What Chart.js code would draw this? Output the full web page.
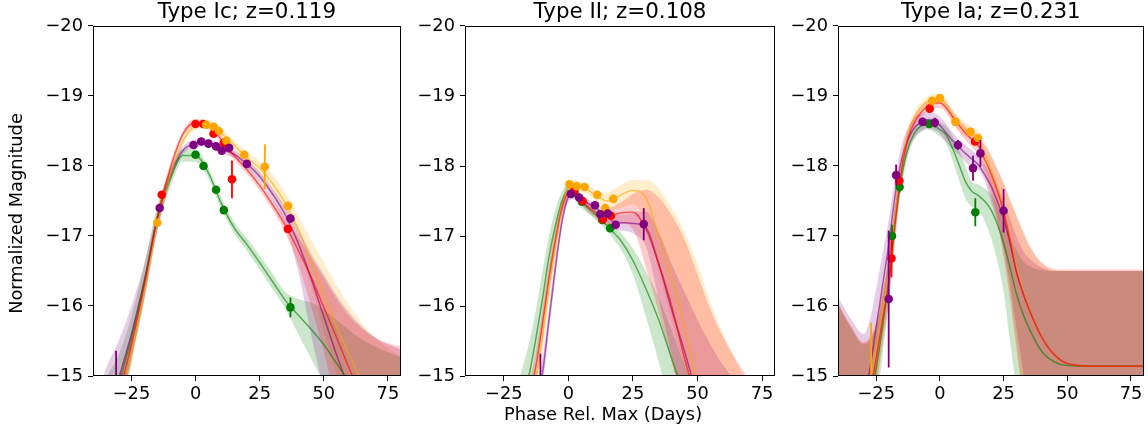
<!DOCTYPE html>
<html><head><meta charset="utf-8">
<script src="https://cdn.jsdelivr.net/npm/chart.js@4.4.0/dist/chart.umd.min.js"></script>
<style>
html,body{margin:0;padding:0;background:#fff;overflow:hidden;width:1148px;height:427px;}
canvas{position:absolute;top:0;}
</style></head><body>
<canvas id="c1" width="405" height="427" style="left:0px"></canvas>
<canvas id="c2" width="386" height="427" style="left:410px"></canvas>
<canvas id="c3" width="366" height="427" style="left:782px"></canvas>
<script>
// ---------- shared ----------
const Y_TICKS = [-20, -19, -18, -17, -16, -15];
const X_TICKS = [-25, 0, 25, 50, 75];
const TITLES = ['Type Ic; z=0.119', 'Type II; z=0.108', 'Type Ia; z=0.231'];
const Y_LABEL = 'Normalized Magnitude';
const X_LABEL = 'Phase Rel. Max (Days)';

// ---------- Panel 1: Type Ic ----------
const IC_PHASE = [-40,-35,-30,-25,-20,-15,-10,-5,0,5,10,15,20,25,30,35,40,45,50,55,60,65,70,75,80];
const IC_RED_MEAN = [-12.8,-13.8,-14.7,-15.45,-16.3,-17.25,-17.95,-18.45,-18.62,-18.58,-18.38,-18.15,-17.95,-17.72,-17.45,-17.15,-16.8,-16.42,-15.98,-15.55,-15.1,-14.7,-14.3,-13.9,-13.5];
const IC_RED_HI   = [-13.2,-14.1,-14.95,-15.62,-16.42,-17.33,-18.02,-18.5,-18.67,-18.63,-18.43,-18.21,-18.01,-17.79,-17.53,-17.26,-16.98,-16.7,-16.4,-16.1,-15.85,-15.68,-15.55,-15.47,-15.42];
const IC_RED_LO   = [-12.4,-13.5,-14.45,-15.28,-16.18,-17.17,-17.88,-18.4,-18.57,-18.53,-18.33,-18.09,-17.89,-17.65,-17.37,-17.04,-16.6,-16.0,-15.35,-14.6,-14.0,-13.5,-13.0,-12.6,-12.2];
const IC_ORANGE_MEAN = [-12.6,-13.6,-14.55,-15.35,-16.2,-17.15,-17.85,-18.35,-18.57,-18.6,-18.47,-18.3,-18.12,-17.97,-17.75,-17.47,-17.1,-16.65,-16.15,-15.7,-15.3,-14.9,-14.5,-14.1,-13.7];
const IC_ORANGE_HI   = [-13.0,-13.95,-14.85,-15.55,-16.35,-17.24,-17.93,-18.41,-18.63,-18.66,-18.53,-18.37,-18.2,-18.07,-17.88,-17.62,-17.3,-16.95,-16.62,-16.3,-16.0,-15.75,-15.55,-15.4,-15.28];
const IC_ORANGE_LO   = [-12.2,-13.25,-14.25,-15.15,-16.05,-17.06,-17.77,-18.29,-18.51,-18.54,-18.41,-18.23,-18.04,-17.87,-17.62,-17.3,-16.85,-16.3,-15.65,-15.0,-14.4,-13.9,-13.4,-13.0,-12.6];
const IC_PURPLE_MEAN = [-13.2,-14.1,-14.95,-15.6,-16.35,-17.2,-17.85,-18.22,-18.32,-18.34,-18.24,-18.17,-18.03,-17.85,-17.6,-17.3,-16.9,-16.4,-15.85,-15.3,-14.8,-14.3,-13.8,-13.3,-12.8];
const IC_PURPLE_HI   = [-14.5,-15.1,-15.5,-16.0,-16.6,-17.35,-17.95,-18.28,-18.38,-18.39,-18.3,-18.22,-18.09,-17.91,-17.68,-17.42,-17.1,-16.75,-16.45,-16.15,-15.9,-15.7,-15.55,-15.45,-15.38];
const IC_PURPLE_LO   = [-12.2,-13.2,-14.4,-15.25,-16.1,-17.05,-17.75,-18.16,-18.26,-18.29,-18.18,-18.12,-17.97,-17.79,-17.52,-17.15,-16.5,-15.6,-14.8,-14.1,-13.5,-13.0,-12.5,-12.0,-11.5];
const IC_GREEN_MEAN = [-13.0,-13.9,-14.85,-15.55,-16.35,-17.25,-17.8,-18.15,-18.15,-17.9,-17.47,-17.12,-16.88,-16.62,-16.35,-16.08,-15.87,-15.67,-15.45,-15.18,-14.9,-14.6,-14.3,-14.0,-13.7];
const IC_GREEN_HI   = [-14.4,-14.95,-15.3,-15.85,-16.6,-17.42,-17.93,-18.24,-18.24,-17.98,-17.55,-17.2,-16.97,-16.72,-16.46,-16.2,-16.1,-16.05,-15.95,-15.8,-15.65,-15.52,-15.42,-15.34,-15.27];
const IC_GREEN_LO   = [-11.8,-12.9,-14.3,-15.2,-16.1,-17.08,-17.67,-18.06,-18.06,-17.82,-17.39,-17.04,-16.79,-16.52,-16.24,-15.96,-15.6,-15.25,-14.9,-14.5,-14.1,-13.7,-13.3,-12.9,-12.5];
const IC_RED_PX = [-13.2,0,3,7,11,14.2,36];
const IC_RED_PY = [-17.59,-18.6,-18.6,-18.46,-18.33,-17.81,-17.1];
const IC_RED_PE = [0.03,0.02,0.02,0.03,0.03,0.27,0.04];
const IC_ORANGE_PX = [-14.9,4.1,7.1,9.1,12,19,27,36];
const IC_ORANGE_PY = [-17.19,-18.59,-18.56,-18.5,-18.36,-18.16,-17.99,-17.43];
const IC_ORANGE_PE = [0.03,0.02,0.02,0.03,0.03,0.04,0.32,0.04];
const IC_PURPLE_PX = [-31,-14,-0.8,2.2,5,8,10.2,13.1,20,37];
const IC_PURPLE_PY = [-14.6,-17.4,-18.3,-18.35,-18.32,-18.28,-18.22,-18.26,-18.03,-17.25];
const IC_PURPLE_PE = [0.76,0.03,0.02,0.02,0.02,0.02,0.03,0.03,0.04,0.06];
const IC_GREEN_PX = [0,3.1,8,11,37];
const IC_GREEN_PY = [-18.16,-18.0,-17.66,-17.37,-15.98];
const IC_GREEN_PE = [0.02,0.02,0.03,0.03,0.14];

// ---------- Panel 2: Type II ----------
const II_PHASE = [-40,-30,-20,-17.5,-15,-12.5,-10,-7.5,-5,-2.5,0,2.5,5,7.5,10,12.5,15,17.5,20,25,30,35,40,45,50,55,60,70,80];
const II_GREEN_MEAN = [-9.0,-11.5,-14.2,-14.65,-15.05,-15.55,-16.1,-16.7,-17.15,-17.5,-17.65,-17.6,-17.48,-17.4,-17.32,-17.24,-17.15,-17.05,-16.95,-16.65,-16.25,-15.8,-15.25,-14.7,-14.1,-13.5,-13.0,-12.0,-11.0];
const II_GREEN_HI   = [-10.0,-12.5,-14.8,-15.15,-15.5,-15.95,-16.5,-17.0,-17.38,-17.63,-17.75,-17.69,-17.56,-17.47,-17.39,-17.31,-17.23,-17.15,-17.06,-16.82,-16.5,-16.12,-15.65,-15.15,-14.6,-14.0,-13.5,-12.5,-11.5];
const II_GREEN_LO   = [-8.0,-10.5,-13.6,-14.15,-14.6,-15.15,-15.7,-16.35,-16.88,-17.33,-17.55,-17.51,-17.4,-17.33,-17.25,-17.17,-17.07,-16.95,-16.83,-16.45,-15.85,-15.2,-14.5,-13.9,-13.3,-12.7,-12.2,-11.2,-10.2];
const II_RED_MEAN = [-9.0,-11.3,-13.8,-14.25,-14.7,-15.15,-15.75,-16.4,-16.95,-17.4,-17.62,-17.64,-17.52,-17.42,-17.35,-17.28,-17.27,-17.3,-17.33,-17.34,-17.1,-16.6,-16.0,-15.25,-14.6,-14.0,-13.4,-12.4,-11.4];
const II_RED_HI   = [-9.5,-11.7,-14.0,-14.45,-14.9,-15.35,-15.95,-16.58,-17.1,-17.5,-17.7,-17.71,-17.59,-17.5,-17.43,-17.37,-17.38,-17.42,-17.47,-17.6,-17.66,-17.55,-17.3,-16.95,-16.45,-15.95,-15.55,-14.95,-14.5];
const II_RED_LO   = [-8.5,-10.9,-13.6,-14.05,-14.5,-14.95,-15.55,-16.2,-16.8,-17.3,-17.54,-17.57,-17.45,-17.34,-17.27,-17.19,-17.15,-17.15,-17.18,-17.1,-16.55,-15.9,-15.2,-14.5,-13.9,-13.3,-12.8,-11.8,-10.8];
const II_ORANGE_MEAN = [-9.0,-11.2,-13.6,-14.05,-14.5,-14.95,-15.55,-16.25,-16.85,-17.38,-17.7,-17.74,-17.7,-17.66,-17.6,-17.54,-17.5,-17.52,-17.58,-17.65,-17.55,-17.0,-16.4,-15.7,-14.85,-14.2,-13.6,-12.6,-11.6];
const II_ORANGE_HI   = [-9.5,-11.6,-13.8,-14.25,-14.7,-15.15,-15.75,-16.43,-17.0,-17.48,-17.78,-17.8,-17.77,-17.73,-17.68,-17.63,-17.62,-17.66,-17.72,-17.8,-17.8,-17.68,-17.4,-17.05,-16.6,-16.05,-15.6,-14.85,-14.3];
const II_ORANGE_LO   = [-8.5,-10.8,-13.4,-13.85,-14.3,-14.75,-15.35,-16.07,-16.7,-17.28,-17.62,-17.68,-17.63,-17.59,-17.52,-17.45,-17.38,-17.38,-17.4,-17.45,-17.2,-16.5,-15.8,-15.1,-14.4,-13.8,-13.3,-12.3,-11.3];
const II_PURPLE_MEAN = [-9.0,-11.0,-13.3,-13.75,-14.2,-14.6,-15.05,-15.8,-16.55,-17.2,-17.55,-17.6,-17.53,-17.47,-17.42,-17.35,-17.28,-17.2,-17.19,-17.18,-17.12,-16.6,-15.95,-15.35,-14.7,-14.1,-13.6,-12.6,-11.6];
const II_PURPLE_HI   = [-9.5,-11.4,-13.5,-13.95,-14.4,-14.8,-15.25,-15.98,-16.7,-17.3,-17.62,-17.66,-17.59,-17.53,-17.48,-17.42,-17.36,-17.3,-17.3,-17.32,-17.35,-17.05,-16.6,-16.2,-15.8,-15.45,-15.15,-14.7,-14.4];
const II_PURPLE_LO   = [-8.5,-10.6,-13.1,-13.55,-14.0,-14.4,-14.85,-15.62,-16.4,-17.1,-17.48,-17.54,-17.47,-17.41,-17.36,-17.28,-17.2,-17.1,-17.08,-17.04,-16.85,-16.1,-15.3,-14.5,-13.8,-13.2,-12.7,-11.7,-10.7];
const II_RED_PX = [2.3,5.5,13.4,16.5];
const II_RED_PY = [-17.65,-17.5,-17.24,-17.29];
const II_RED_PE = [0.02,0.02,0.03,0.03];
const II_ORANGE_PX = [0.4,3.2,6.3,11.2,14.3,17.4];
const II_ORANGE_PY = [-17.74,-17.71,-17.7,-17.59,-17.4,-17.53];
const II_ORANGE_PE = [0.02,0.02,0.02,0.02,0.03,0.03];
const II_PURPLE_PX = [-10.8,1,4.2,10.3,12.4,15.3,18.3,29.2];
const II_PURPLE_PY = [-14.6,-17.6,-17.55,-17.44,-17.31,-17.32,-17.16,-17.17];
const II_PURPLE_PE = [0.72,0.02,0.02,0.03,0.03,0.03,0.03,0.23];
const II_GREEN_PX = [2.3,5.3,13.1,16.2];
const II_GREEN_PY = [-17.62,-17.49,-17.23,-17.11];
const II_GREEN_PE = [0.02,0.02,0.02,0.02];

// ---------- Panel 3: Type Ia ----------
const IA_PHASE = [-40,-35,-30,-27.5,-25,-22.5,-20,-17.5,-15,-12.5,-10,-7.5,-5,-2.5,0,2.5,5,7.5,10,12.5,15,17.5,20,22.5,25,27.5,30,32.5,35,40,45,50,60,70,80];
const IA_RED_MEAN = [-12.5,-13.3,-14.2,-14.75,-15.25,-15.8,-16.35,-17.2,-17.95,-18.4,-18.62,-18.76,-18.85,-18.9,-18.9,-18.83,-18.7,-18.58,-18.47,-18.38,-18.3,-18.1,-17.9,-17.65,-17.35,-16.95,-16.5,-16.2,-15.95,-15.55,-15.3,-15.18,-15.14,-15.14,-15.14];
const IA_RED_HI   = [-16.05,-15.72,-15.48,-15.55,-15.75,-16.2,-16.7,-17.45,-18.1,-18.5,-18.7,-18.83,-18.92,-18.97,-18.97,-18.9,-18.78,-18.67,-18.57,-18.49,-18.43,-18.3,-18.15,-17.95,-17.75,-17.52,-17.3,-17.08,-16.88,-16.62,-16.53,-16.52,-16.52,-16.52,-16.52];
const IA_RED_LO   = [-12.0,-12.0,-12.5,-13.5,-14.7,-15.45,-16.05,-16.95,-17.8,-18.3,-18.54,-18.69,-18.78,-18.83,-18.83,-18.76,-18.62,-18.49,-18.37,-18.27,-18.17,-17.9,-17.6,-17.2,-16.7,-16.1,-15.4,-14.7,-14.0,-13.0,-12.5,-12.0,-12.0,-12.0,-12.0];
const IA_ORANGE_MEAN = [-12.4,-13.2,-14.3,-14.85,-15.4,-15.95,-16.5,-17.3,-18.0,-18.45,-18.7,-18.84,-18.92,-18.96,-18.96,-18.88,-18.72,-18.6,-18.52,-18.46,-18.38,-18.18,-17.95,-17.7,-17.4,-17.0,-16.55,-16.22,-15.97,-15.56,-15.3,-15.18,-15.14,-15.14,-15.14];
const IA_ORANGE_HI   = [-16.0,-15.7,-15.47,-15.55,-15.8,-16.25,-16.8,-17.55,-18.17,-18.56,-18.78,-18.91,-18.99,-19.03,-19.03,-18.96,-18.81,-18.7,-18.62,-18.56,-18.5,-18.35,-18.17,-17.97,-17.77,-17.52,-17.28,-17.06,-16.86,-16.6,-16.51,-16.5,-16.5,-16.5,-16.5];
const IA_ORANGE_LO   = [-12.0,-12.0,-12.5,-13.6,-14.8,-15.55,-16.15,-17.0,-17.85,-18.34,-18.62,-18.77,-18.85,-18.89,-18.89,-18.8,-18.63,-18.5,-18.42,-18.36,-18.26,-18.0,-17.7,-17.3,-16.8,-16.2,-15.5,-14.8,-14.1,-13.0,-12.5,-12.0,-12.0,-12.0,-12.0];
const IA_PURPLE_MEAN = [-13.0,-13.8,-14.6,-15.1,-15.7,-16.3,-16.9,-17.6,-18.1,-18.38,-18.55,-18.62,-18.66,-18.64,-18.58,-18.47,-18.36,-18.27,-18.18,-18.1,-18.02,-17.88,-17.72,-17.5,-17.25,-16.9,-16.5,-16.2,-15.96,-15.56,-15.3,-15.18,-15.14,-15.14,-15.14];
const IA_PURPLE_HI   = [-16.13,-15.82,-15.6,-15.8,-16.25,-16.75,-17.25,-17.85,-18.3,-18.55,-18.7,-18.75,-18.78,-18.76,-18.7,-18.6,-18.48,-18.38,-18.3,-18.22,-18.15,-18.02,-17.88,-17.7,-17.5,-17.25,-17.0,-16.8,-16.68,-16.55,-16.5,-16.5,-16.5,-16.5,-16.5];
const IA_PURPLE_LO   = [-12.0,-12.0,-12.8,-13.9,-15.1,-15.8,-16.5,-17.3,-17.9,-18.22,-18.4,-18.49,-18.54,-18.52,-18.46,-18.34,-18.24,-18.16,-18.06,-17.98,-17.95,-17.8,-17.5,-17.2,-16.8,-16.3,-15.7,-15.1,-14.4,-13.2,-12.5,-12.0,-12.0,-12.0,-12.0];
const IA_GREEN_MEAN = [-12.3,-13.1,-14.0,-14.55,-15.1,-15.7,-16.4,-17.25,-17.85,-18.25,-18.47,-18.57,-18.6,-18.58,-18.52,-18.44,-18.25,-18.02,-17.78,-17.64,-17.58,-17.5,-17.38,-17.17,-16.9,-16.55,-16.18,-15.9,-15.68,-15.35,-15.2,-15.15,-15.14,-15.14,-15.14];
const IA_GREEN_HI   = [-16.02,-15.7,-15.45,-15.5,-15.7,-16.1,-16.7,-17.45,-18.0,-18.36,-18.55,-18.65,-18.68,-18.67,-18.62,-18.56,-18.42,-18.24,-18.0,-17.78,-17.74,-17.68,-17.6,-17.45,-17.25,-17.0,-16.8,-16.65,-16.57,-16.51,-16.5,-16.5,-16.5,-16.5,-16.5];
const IA_GREEN_LO   = [-12.0,-12.0,-12.5,-13.3,-14.5,-15.3,-16.1,-17.05,-17.7,-18.14,-18.39,-18.49,-18.52,-18.49,-18.42,-18.32,-18.08,-17.8,-17.54,-17.42,-17.38,-17.22,-16.98,-16.65,-16.2,-15.5,-14.8,-14.0,-13.5,-12.8,-12.3,-12.0,-12.0,-12.0,-12.0];
const IA_RED_PX = [-19,-15.9,-4,13.8];
const IA_RED_PY = [-16.68,-17.79,-18.82,-18.35];
const IA_RED_PE = [0.27,0.05,0.03,0.04];
const IA_ORANGE_PX = [-27,-3,0,6.1,12,14.9];
const IA_ORANGE_PY = [-14.7,-18.93,-18.97,-18.63,-18.49,-18.4];
const IA_ORANGE_PE = [1.06,0.03,0.03,0.03,0.03,0.03];
const IA_PURPLE_PX = [-20.1,-17.2,-6.8,-2,7.1,13,15.9,25];
const IA_PURPLE_PY = [-16.1,-17.87,-18.63,-18.62,-18.3,-17.97,-18.18,-17.36];
const IA_PURPLE_PE = [0.98,0.15,0.06,0.07,0.07,0.18,0.19,0.31];
const IA_GREEN_PX = [-18.8,-15.8,-4.2,13.9];
const IA_GREEN_PY = [-17.0,-17.7,-18.6,-17.34];
const IA_GREEN_PE = [0.16,0.08,0.03,0.2];

// ---------- rendering ----------
const FONT = "'DejaVu Sans', sans-serif";
const TICK_SIZE = 17.8;
const TITLE_SIZE = 21.4;
const RGB = {red: '255,0,0', orange: '255,165,0', purple: '128,0,128', green: '0,128,0'};

const PANELS = [
  {id: 'c1', title: TITLES[0], x: IC_PHASE,
   curves: {red: [IC_RED_MEAN, IC_RED_HI, IC_RED_LO], orange: [IC_ORANGE_MEAN, IC_ORANGE_HI, IC_ORANGE_LO],
            purple: [IC_PURPLE_MEAN, IC_PURPLE_HI, IC_PURPLE_LO], green: [IC_GREEN_MEAN, IC_GREEN_HI, IC_GREEN_LO]},
   points: {red: [IC_RED_PX, IC_RED_PY, IC_RED_PE], orange: [IC_ORANGE_PX, IC_ORANGE_PY, IC_ORANGE_PE],
            purple: [IC_PURPLE_PX, IC_PURPLE_PY, IC_PURPLE_PE], green: [IC_GREEN_PX, IC_GREEN_PY, IC_GREEN_PE]},
   padR: 2, yW: 65.34, y2W: 0, xH: 51, side: 'ylabel'},
  {id: 'c2', title: TITLES[1], x: II_PHASE,
   curves: {red: [II_RED_MEAN, II_RED_HI, II_RED_LO], orange: [II_ORANGE_MEAN, II_ORANGE_HI, II_ORANGE_LO],
            purple: [II_PURPLE_MEAN, II_PURPLE_HI, II_PURPLE_LO], green: [II_GREEN_MEAN, II_GREEN_HI, II_GREEN_LO]},
   points: {red: [II_RED_PX, II_RED_PY, II_RED_PE], orange: [II_ORANGE_PX, II_ORANGE_PY, II_ORANGE_PE],
            purple: [II_PURPLE_PX, II_PURPLE_PY, II_PURPLE_PE], green: [II_GREEN_PX, II_GREEN_PY, II_GREEN_PE]},
   padR: 0, yW: 55, y2W: 21, xH: 28, side: 'xlabel'},
  {id: 'c3', title: TITLES[2], x: IA_PHASE,
   curves: {red: [IA_RED_MEAN, IA_RED_HI, IA_RED_LO], orange: [IA_ORANGE_MEAN, IA_ORANGE_HI, IA_ORANGE_LO],
            purple: [IA_PURPLE_MEAN, IA_PURPLE_HI, IA_PURPLE_LO], green: [IA_GREEN_MEAN, IA_GREEN_HI, IA_GREEN_LO]},
   points: {red: [IA_RED_PX, IA_RED_PY, IA_RED_PE], orange: [IA_ORANGE_PX, IA_ORANGE_PY, IA_ORANGE_PE],
            purple: [IA_PURPLE_PX, IA_PURPLE_PY, IA_PURPLE_PE], green: [IA_GREEN_PX, IA_GREEN_PY, IA_GREEN_PE]},
   padR: 0, yW: 56, y2W: 0, xH: 51, side: null}
];

function xy(xs, ys) { return xs.map((x, i) => ({x: x, y: ys[i]})); }
function errSegs(xs, ys, es) {
  const out = [];
  xs.forEach((x, i) => { out.push({x: x, y: ys[i] - es[i]}, {x: x, y: ys[i] + es[i]}, {x: x, y: null}); });
  return out;
}
function fmt(v) { return (v < 0 ? '\u2212' : '') + Math.abs(v); }

function buildDatasets(p) {
  const ds = []; let k = 0;
  const push = d => { d.order = 1000 - (k++); ds.push(d); };
  for (const c of ['orange', 'green', 'purple', 'red']) {
    const [mean, hi, lo] = p.curves[c];
    push({type: 'line', data: xy(p.x, hi), borderWidth: 0, borderColor: 'rgba(0,0,0,0)', pointRadius: 0,
          fill: '+1', backgroundColor: 'rgba(' + RGB[c] + ',0.2)', cubicInterpolationMode: 'monotone'});
    push({type: 'line', data: xy(p.x, lo), borderWidth: 0, borderColor: 'rgba(0,0,0,0)', pointRadius: 0,
          fill: false, cubicInterpolationMode: 'monotone'});
  }
  for (const c of ['purple', 'green', 'orange', 'red']) {
    const [mean] = p.curves[c];
    push({type: 'line', data: xy(p.x, mean), borderWidth: 1.5, borderColor: 'rgba(' + RGB[c] + ',0.6)',
          pointRadius: 0, fill: false, cubicInterpolationMode: 'monotone'});
  }
  for (const c of ['green', 'red', 'orange', 'purple']) {
    const [px, py, pe] = p.points[c];
    push({type: 'line', data: errSegs(px, py, pe), borderWidth: 1.8, borderColor: 'rgb(' + RGB[c] + ')',
          pointRadius: 0, fill: false, spanGaps: false, tension: 0});
    push({type: 'line', data: xy(px, py), showLine: false, pointRadius: 4.3, pointHoverRadius: 4.3,
          pointBorderWidth: 0, pointBackgroundColor: 'rgb(' + RGB[c] + ')', pointBorderColor: 'rgb(' + RGB[c] + ')', fill: false});
  }
  return ds;
}

const framePlugin = {
  id: 'frame',
  afterDatasetsDraw(chart) {
    const {ctx, chartArea: a} = chart;
    ctx.save();
    ctx.strokeStyle = '#000';
    ctx.lineWidth = 1;
    ctx.strokeRect(Math.round(a.left) + 0.5, Math.round(a.top) + 0.5,
                   Math.round(a.right) - Math.round(a.left) - 1, Math.round(a.bottom) - Math.round(a.top) - 1);
    ctx.restore();
  }
};

PANELS.forEach(p => {
  let subtitle = {display: false};
  if (p.side === 'ylabel') {
    subtitle = {display: true, text: Y_LABEL, position: 'left', fullSize: true, color: '#000',
                font: {family: FONT, size: TICK_SIZE, weight: 'normal'}, padding: {top: 6.3, bottom: 0}};
  } else if (p.side === 'xlabel') {
    subtitle = {display: true, text: X_LABEL, position: 'bottom', fullSize: true, color: '#000',
                font: {family: FONT, size: TICK_SIZE, weight: 'normal'}, padding: {top: 0.3, bottom: 1.3}};
  }
  const scales = {
    x: {type: 'linear', min: -40, max: 80,
        afterBuildTicks: s => { s.ticks = X_TICKS.map(v => ({value: v})); },
        afterFit: s => { s.height = p.xH; },
        grid: {display: true, drawOnChartArea: false, drawTicks: true, tickLength: 5, color: '#000', tickColor: '#000', lineWidth: 1},
        border: {display: false},
        ticks: {font: {family: FONT, size: TICK_SIZE}, color: '#000', padding: 3, maxRotation: 0, autoSkip: false, callback: v => fmt(v)}},
    y: {type: 'linear', position: 'left', min: -20, max: -15, reverse: true,
        afterBuildTicks: s => { s.ticks = Y_TICKS.map(v => ({value: v})); },
        afterFit: s => { s.width = p.yW; },
        grid: {display: true, drawOnChartArea: false, drawTicks: true, tickLength: 5, color: '#000', tickColor: '#000', lineWidth: 1},
        border: {display: false},
        ticks: {font: {family: FONT, size: TICK_SIZE}, color: '#000', padding: 5, autoSkip: false, callback: v => fmt(v)}}
  };
  if (p.y2W > 0) {
    scales.y2 = {type: 'linear', position: 'right', min: -20, max: -15, reverse: true, display: true,
                 afterFit: s => { s.width = p.y2W; },
                 grid: {display: false, drawTicks: false}, border: {display: false}, ticks: {display: false}};
  }
  new Chart(document.getElementById(p.id), {
    type: 'line',
    data: {datasets: buildDatasets(p)},
    plugins: [framePlugin],
    options: {
      responsive: false, animation: false, devicePixelRatio: 1,
      events: [],
      layout: {padding: {left: 0, right: p.padR, top: 0, bottom: 0}},
      elements: {line: {capBezierPoints: false}, point: {radius: 0}},
      plugins: {
        legend: {display: false}, tooltip: {enabled: false},
        filler: {propagate: false},
        title: {display: true, text: p.title, fullSize: false, color: '#000',
                font: {family: FONT, size: TITLE_SIZE, weight: 'normal'}, padding: {top: 0, bottom: 0.3}},
        subtitle: subtitle
      },
      scales: scales
    }
  });
});
</script></body></html>
